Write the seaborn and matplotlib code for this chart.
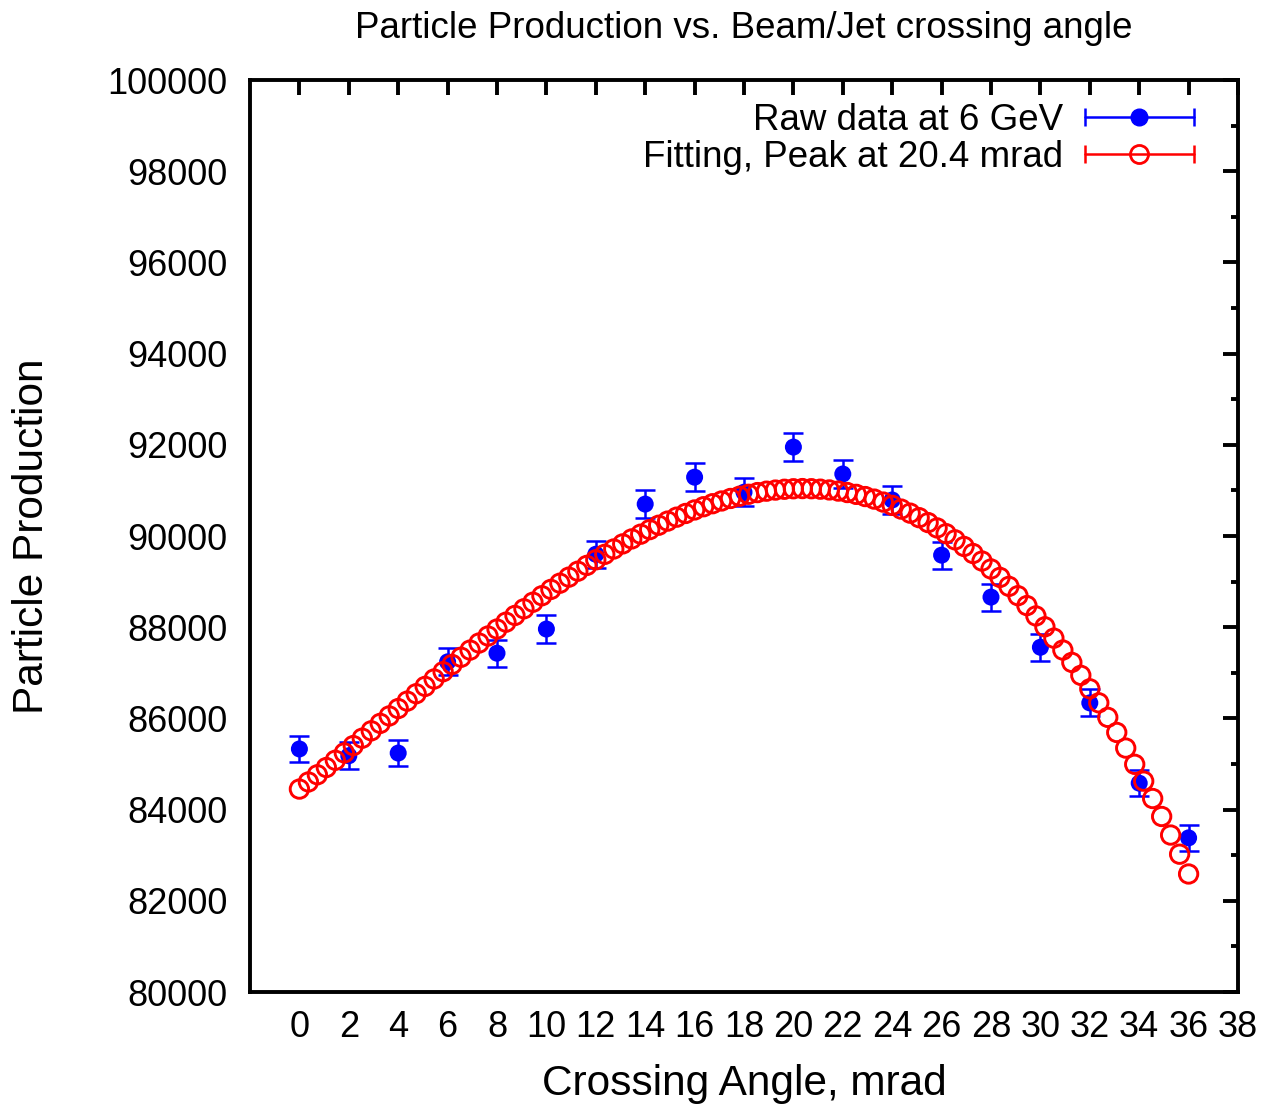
import numpy as np
import matplotlib
matplotlib.use("Agg")
import matplotlib.pyplot as plt
from matplotlib.lines import Line2D
from matplotlib.legend_handler import HandlerLine2D
from matplotlib.ticker import MultipleLocator
import seaborn as sns

# measured points (crossing angle in mrad)
angle = [0, 2, 4, 6, 8, 10, 12, 14, 16, 18, 20, 22, 24, 26, 28, 30, 32, 34, 36]
production = [85330, 85180, 85240, 87240, 87430, 87960, 89600, 90700, 91290, 90960,
              91950, 91360, 90790, 89580, 88660, 87560, 86340, 84580, 83380]
production_err = [292, 292, 292, 295, 296, 297, 299, 301, 302, 302,
                  303, 302, 301, 299, 298, 296, 294, 291, 289]

# fit curve, 100 samples between 0 and 36 mrad
fit_angle = np.linspace(0, 36, 100)
fit_production = [
    84450, 84606, 84764, 84923, 85082, 85243, 85404, 85566, 85728, 85891,
    86054, 86216, 86379, 86541, 86702, 86864, 87024, 87183, 87341, 87498,
    87653, 87807, 87960, 88110, 88258, 88404, 88548, 88690, 88829, 88965,
    89098, 89228, 89355, 89478, 89598, 89715, 89827, 89936, 90040, 90140,
    90236, 90327, 90413, 90494, 90571, 90642, 90708, 90768, 90823, 90872,
    90915, 90952, 90983, 91007, 91025, 91036, 91040, 91037, 91027, 91010,
    90985, 90953, 90913, 90865, 90809, 90744, 90672, 90590, 90501, 90402,
    90294, 90177, 90051, 89916, 89771, 89616, 89451, 89277, 89092, 88896,
    88691, 88474, 88247, 88009, 87760, 87499, 87228, 86944, 86649, 86342,
    86023, 85692, 85349, 84993, 84624, 84243, 83849, 83442, 83022, 82588,
]

labels = ["Raw data at 6 GeV", "Fitting, Peak at 20.4 mrad"]
xticks = list(range(0, 39, 2))


class CappedHandler(HandlerLine2D):
    # gnuplot style key sample: line with end caps
    def create_artists(self, legend, orig_handle, xdescent, ydescent,
                       width, height, fontsize, trans):
        artists = super().create_artists(legend, orig_handle, xdescent, ydescent,
                                         width, height, fontsize, trans)
        y = (height - ydescent) / 2
        caps = Line2D([-xdescent, -xdescent + width], [y, y], linestyle="none",
                      marker="|", markersize=13, markeredgewidth=1.8,
                      color=orig_handle.get_color(), transform=trans)
        return artists + [caps]


sns.set_style("white")
plt.rcParams["font.family"] = ["Liberation Sans", "DejaVu Sans"]
plt.rcParams["text.color"] = "black"
plt.rcParams["axes.labelcolor"] = "black"

fig = plt.figure(figsize=(12.64, 11.06), dpi=100)
ax = fig.add_axes([250 / 1264, 1 - 992 / 1106, 988 / 1264, 912 / 1106])

ax.errorbar(angle, production, yerr=production_err, fmt="none", ecolor="blue",
            elinewidth=1.8, capsize=7.5, capthick=1.8, zorder=2)
sns.scatterplot(x=angle, y=production, ax=ax, color="blue", s=150,
                edgecolor="none", zorder=2)
sns.scatterplot(x=fit_angle, y=fit_production, ax=ax, s=175, marker="o",
                facecolors="none", edgecolor="red", linewidth=2.1, zorder=3)

ax.set_xlim(-2, 38)
ax.set_ylim(80000, 100000)
ax.set_xticks(xticks)
ax.yaxis.set_major_locator(MultipleLocator(2000))
ax.yaxis.set_minor_locator(MultipleLocator(1000))
ax.tick_params(which="both", direction="in", top=True, right=True,
               width=2.8, colors="black", labelsize=26)
ax.tick_params(which="major", length=11)
ax.tick_params(which="minor", length=5)
ax.tick_params(axis="y", pad=16)
ax.tick_params(axis="x", pad=13)
for sp in ax.spines.values():
    sp.set_linewidth(2.8)
    sp.set_color("black")

ax.set_title("Particle Production vs. Beam/Jet crossing angle", fontsize=26.5,
             pad=30, color="black")
ax.set_xlabel("Crossing Angle, mrad", fontsize=30.5, labelpad=14)
ax.set_ylabel("Particle Production", fontsize=30.5, labelpad=40)

handles = [
    Line2D([], [], color="blue", marker="o", markersize=12, lw=1.8),
    Line2D([], [], color="red", marker="o", markersize=13, lw=1.8,
           markerfacecolor="none", markeredgecolor="red", markeredgewidth=2.0),
]
ax.legend(handles, labels, loc="upper right", bbox_to_anchor=(0.955, 0.975),
          frameon=False, markerfirst=False, fontsize=26.5, handlelength=2.95,
          handletextpad=0.6, labelspacing=0.05, borderpad=0, borderaxespad=0,
          numpoints=1, handler_map={Line2D: CappedHandler()})

fig.savefig("out.png", dpi=100)
